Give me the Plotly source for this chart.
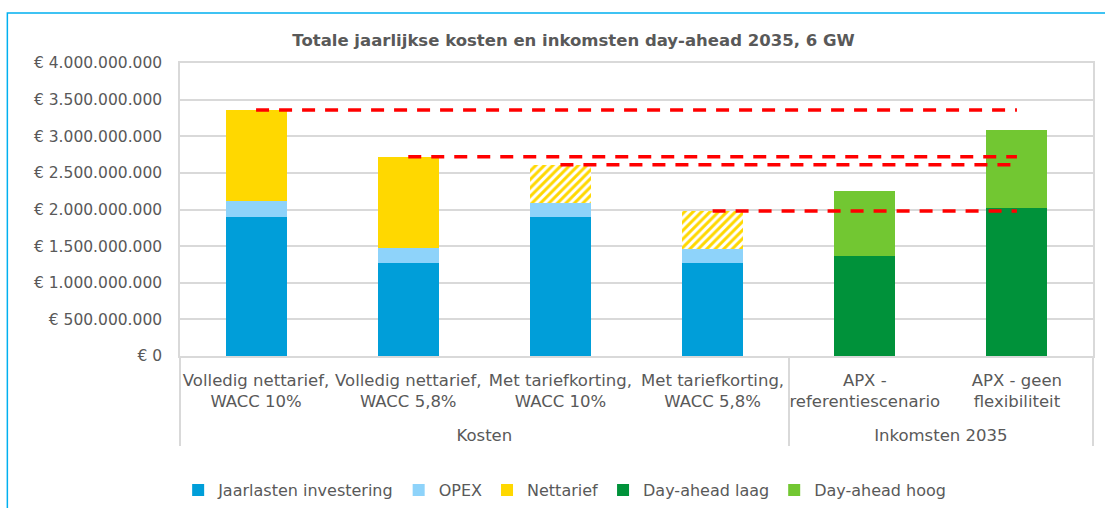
import plotly.graph_objects as go


GROUPS = ["Kosten", "Kosten", "Kosten", "Kosten", "Inkomsten 2035", "Inkomsten 2035"]
SCENARIOS = [
    "Volledig nettarief,<br>WACC 10%",
    "Volledig nettarief,<br>WACC 5,8%",
    "Met tariefkorting,<br>WACC 10%",
    "Met tariefkorting,<br>WACC 5,8%",
    "APX -<br>referentiescenario",
    "APX - geen<br>flexibiliteit",
]
JAARLASTEN = [1.90e9, 1.27e9, 1.90e9, 1.27e9, None, None]
OPEX = [0.215e9, 0.205e9, 0.195e9, 0.195e9, None, None]
NETTARIEF = [1.245e9, 1.245e9, 0.515e9, 0.515e9, None, None]
DAY_AHEAD_LAAG = [None, None, None, None, 1.37e9, 2.02e9]
DAY_AHEAD_HOOG = [None, None, None, None, 0.885e9, 1.065e9]
NETTARIEF_PATTERN = ["", "", "/", "/", "", ""]
Y_TICKS = [0, 5e8, 1e9, 1.5e9, 2e9, 2.5e9, 3e9, 3.5e9, 4e9]
Y_TICK_LABELS = [
    "€ 0", "€ 500.000.000", "€ 1.000.000.000", "€ 1.500.000.000",
    "€ 2.000.000.000", "€ 2.500.000.000", "€ 3.000.000.000",
    "€ 3.500.000.000", "€ 4.000.000.000",
]


class CostIncomePlotter:
    """A class to compare yearly costs with day-ahead income."""

    def __init__(self):
        """Build the figure and write it out."""
        self.fig = go.Figure()
        # Group labels get an empty first line so they sit below the two-line labels.
        self.groups = ["<br>" + group for group in GROUPS]
        self._add_bars()
        self._add_reference_lines()
        self._update_plot()
        # Drop the default page margin so the chart sits at the window corner.
        self.fig.write_html(
            "out.html",
            config={"displayModeBar": False},
            post_script="document.body.style.margin='0';",
        )

    def _add_bars(self):
        """Add the stacked bar series."""
        x = [self.groups, SCENARIOS]
        series = [
            ("Jaarlasten investering", JAARLASTEN, "#009ED9"),
            ("OPEX", OPEX, "#8ED3FA"),
            ("Nettarief", NETTARIEF, "#FFD800"),
            ("Day-ahead laag", DAY_AHEAD_LAAG, "#00923A"),
            ("Day-ahead hoog", DAY_AHEAD_HOOG, "#72C732"),
        ]
        for name, values, color in series:
            marker = dict(color=color, line=dict(width=0))
            if name == "Nettarief":
                # Hatched points for the scenarios with a tariff discount.
                marker["pattern"] = dict(
                    shape=NETTARIEF_PATTERN, fillmode="replace",
                    bgcolor="white", size=6, solidity=0.5,
                )
            self.fig.add_trace(go.Bar(x=x, y=values, name=name, marker=marker))

    def _add_reference_lines(self):
        """Draw the dashed lines from each cost total to the last income bar."""
        for i in range(4):
            total = JAARLASTEN[i] + OPEX[i] + NETTARIEF[i]
            self.fig.add_trace(
                go.Scatter(
                    x=[[self.groups[i], self.groups[5]], [SCENARIOS[i], SCENARIOS[5]]],
                    y=[total, total],
                    mode="lines",
                    line=dict(color="#FF0000", width=3.5, dash="13px,10px"),
                    showlegend=False,
                    hoverinfo="skip",
                )
            )

    def _update_plot(self):
        """Customize the plot."""
        self.fig.update_layout(
            barmode="stack",
            bargap=0.6,
            width=1105,
            height=508,
            margin=dict(l=180, r=10, t=63, b=152),
            paper_bgcolor="white",
            plot_bgcolor="white",
            font=dict(family="DejaVu Sans", size=15, color="#595959"),
            title=dict(
                text="<b>Totale jaarlijkse kosten en inkomsten day-ahead 2035, 6 GW</b>",
                x=0.519, xanchor="center", y=0.921, yanchor="middle",
                font=dict(size=16.5, color="#595959"),
            ),
            legend=dict(
                orientation="h", xref="container", yref="container",
                x=0.511, xanchor="center", y=0.035, yanchor="middle",
                font=dict(size=16), traceorder="normal", itemwidth=30,
            ),
            xaxis=dict(
                type="multicategory",
                tickfont=dict(size=16.5),
                tickangle=0, automargin=False,
                showline=True, linecolor="#D9D9D9", linewidth=1.5, mirror=True,
                showdividers=True, dividercolor="#D9D9D9", dividerwidth=1.5,
                ticks="", ticklabelstandoff=8,
            ),
            yaxis=dict(
                range=[0, 4e9],
                tickvals=Y_TICKS,
                ticktext=Y_TICK_LABELS,
                tickfont=dict(size=15.5),
                showgrid=True, gridcolor="#D9D9D9", gridwidth=1.5,
                showline=True, linecolor="#D9D9D9", linewidth=1.5, mirror=True,
                zeroline=False,
                ticks="", ticklabelstandoff=13,
            ),
            shapes=[
                dict(
                    type="path", xref="paper", yref="paper",
                    path="M -0.1891,-0.52 L -0.1891,1.1706 L 1.02,1.1706",
                    line=dict(color="#00B0F0", width=1.5),
                )
            ],
        )


if __name__ == "__main__":
    # Make the instance to build and save the chart.
    plotter = CostIncomePlotter()
